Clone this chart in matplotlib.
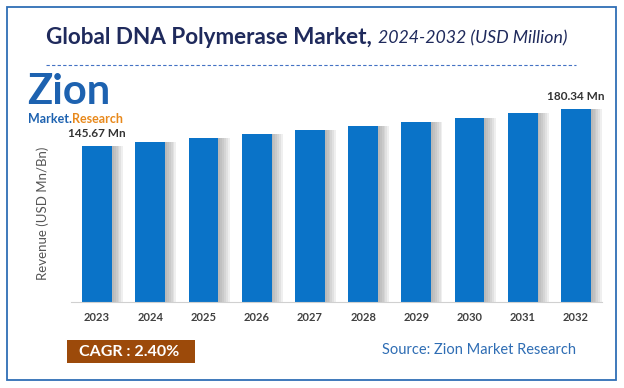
import matplotlib.pyplot as plt
from matplotlib.patches import Rectangle
from matplotlib.lines import Line2D

years = ['2023', '2024', '2025', '2026', '2027', '2028', '2029', '2030', '2031', '2032']
revenue = [145.67, 149.2, 152.8, 156.4, 160.2, 164.0, 167.9, 172.0, 176.1, 180.34]
labels = {0: '145.67 Mn', 9: '180.34 Mn'}

W, H = 624, 388
fig = plt.figure(figsize=(W / 100, H / 100), dpi=100)
plt.rcParams['font.family'] = ['Lato', 'DejaVu Sans']

def px(x, y):
    # pixel coords (top-left origin) -> figure fraction
    return x / W, 1 - y / H

# outer border
fig.patches.append(Rectangle(px(7, 380), 609 / W, 373 / H, transform=fig.transFigure,
                             fill=False, edgecolor='#2f6eb5', lw=1.3))

# title
fig.text(*px(372, 38), 'Global DNA Polymerase Market,', ha='right', va='center',
         fontsize=16.2, fontweight='bold', color='#1f2a5c')
fig.text(*px(378, 38), '2024-2032 (USD Million)', ha='left', va='center',
         fontsize=12.8, style='italic', color='#1f2a5c')
fig.lines.append(Line2D([46 / W, 576 / W], [1 - 65 / H] * 2, transform=fig.transFigure,
                        color='#4472c4', lw=0.8, ls=(0, (3, 2))))

# chart axes
ax = fig.add_axes([71 / W, 1 - 302 / H, 531 / W, 202 / H])
x = list(range(len(years)))
left = [i - 0.28 for i in x]
for k in range(1, 7):
    ax.bar(left, revenue, width=0.56 + 0.035 * k, align='edge', color='#808080',
           alpha=0.12, lw=0, zorder=1)
ax.bar(x, revenue, width=0.56, color='#0a73c8', zorder=2)
ax.set_xlim(-0.49, 9.49)
ax.set_ylim(0, 188.6)
for i, t in labels.items():
    ax.annotate(t, (i, revenue[i]), xytext=(0, 5), textcoords='offset points',
                ha='center', va='bottom', fontsize=8.5, fontweight='bold', color='#333333')
ax.set_xticks(x)
ax.set_xticklabels(years, fontsize=8, fontweight='bold', color='#404040')
ax.tick_params(axis='x', length=0, pad=7)
ax.set_yticks([])
for s in ['top', 'right', 'left']:
    ax.spines[s].set_visible(False)
ax.spines['bottom'].set_color('#d0d0d0')

fig.text(*px(43, 213), 'Revenue (USD Mn/Bn)', rotation=90, ha='center', va='center',
         fontsize=9.5, color='#555555')

# logo
fig.text(*px(27, 92), 'Zion', ha='left', va='center', fontsize=30, fontweight='bold',
         color='#1d62b0')
t1 = fig.text(*px(28, 119), 'Market.', ha='left', va='center', fontsize=9,
              fontweight='bold', color='#1d62b0')
ax.annotate('Research', xy=(1, 0.5), xycoords=t1, ha='left', va='center', fontsize=9,
            fontweight='bold', color='#e8891c', annotation_clip=False)

# CAGR box and source
fig.patches.append(Rectangle(px(67, 363), 128 / W, 23 / H, transform=fig.transFigure,
                             facecolor='#9c4a0a', edgecolor='none'))
fig.text(*px(129, 352), 'CAGR : 2.40%', ha='center', va='center', fontsize=11.5,
         fontweight='bold', color='white')
fig.text(*px(479, 350), 'Source: Zion Market Research', ha='center', va='center',
         fontsize=10.5, color='#2e6db4')

fig.savefig('out.png', dpi=100)
